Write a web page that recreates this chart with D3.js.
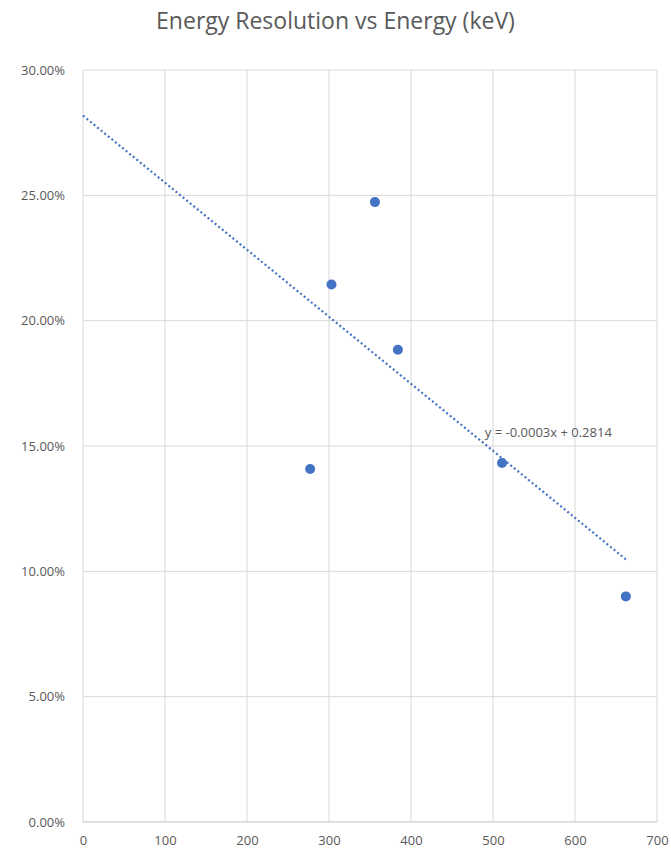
<!DOCTYPE html>
<html>
<head>
<meta charset="utf-8">
<script src="https://cdn.jsdelivr.net/npm/d3@7"></script>
<style>
  body { margin: 0; background: #fff; }
  text { font-family: "Open Sans", "Liberation Sans", sans-serif; fill: #595959; }
</style>
</head>
<body>
<script>
var energy = [277, 303, 356, 384, 511, 662];
var resolution = [0.1408, 0.2144, 0.2473, 0.1884, 0.1432, 0.0900];
var xTicks = [0, 100, 200, 300, 400, 500, 600, 700];
var yTicks = [0, 0.05, 0.10, 0.15, 0.20, 0.25, 0.30];
var titleText = "Energy Resolution vs Energy (keV)";
var eqText = "y = -0.0003x + 0.2814";

var totalWidth = 671, totalHeight = 857;
var margin = {top: 70, right: 14, bottom: 35, left: 83},
    width = totalWidth - margin.left - margin.right,
    height = totalHeight - margin.top - margin.bottom;

var svg = d3.select("body").append("svg")
    .attr("width", totalWidth)
    .attr("height", totalHeight);

svg.append("text")
    .attr("x", totalWidth / 2)
    .attr("y", 29)
    .style("text-anchor", "middle")
    .style("font-size", "23px")
    .text(titleText);

var g = svg.append("g")
    .attr("transform", "translate(" + margin.left + "," + margin.top + ")");

var x = d3.scaleLinear().domain([0, 700]).range([0, width]);
var y = d3.scaleLinear().domain([0, 0.30]).range([height, 0]);

// gridlines
g.selectAll(".vgrid")
    .data(xTicks)
  .enter().append("line")
    .attr("class", "vgrid")
    .attr("x1", function(d) { return x(d); })
    .attr("x2", function(d) { return x(d); })
    .attr("y1", 0)
    .attr("y2", height)
    .style("stroke", "#d9d9d9")
    .style("stroke-width", 1);

g.selectAll(".hgrid")
    .data(yTicks)
  .enter().append("line")
    .attr("class", "hgrid")
    .attr("x1", 0)
    .attr("x2", width)
    .attr("y1", function(d) { return y(d); })
    .attr("y2", function(d) { return y(d); })
    .style("stroke", function(d) { return d === 0 ? "#bfbfbf" : "#d9d9d9"; })
    .style("stroke-width", 1);

var xAxis = d3.axisBottom(x).tickValues(xTicks).tickSize(0).tickPadding(14);
var yAxis = d3.axisLeft(y).tickValues(yTicks).tickSize(0).tickPadding(18)
    .tickFormat(d3.format(".2%"));

g.append("g")
    .attr("transform", "translate(0," + height + ")")
    .call(xAxis)
    .call(function(s) { s.select(".domain").remove(); })
    .selectAll("text")
    .style("font-size", "13px")
    .style("fill", "#595959");

g.append("g")
    .call(yAxis)
    .call(function(s) { s.select(".domain").remove(); })
    .selectAll("text")
    .style("font-size", "13px")
    .style("fill", "#595959");

// least squares trendline
var mx = d3.mean(energy), my = d3.mean(resolution);
var sxy = d3.sum(energy, function(e, i) { return (e - mx) * (resolution[i] - my); });
var sxx = d3.sum(energy, function(e) { return (e - mx) * (e - mx); });
var slope = sxy / sxx, intercept = my - slope * mx;
var xMax = d3.max(energy);

g.append("line")
    .attr("x1", x(0))
    .attr("y1", y(intercept))
    .attr("x2", x(xMax))
    .attr("y2", y(intercept + slope * xMax))
    .style("stroke", "#4472C4")
    .style("stroke-width", 2.2)
    .style("stroke-dasharray", "2,2.6");

g.append("text")
    .attr("x", x(490))
    .attr("y", y(0.1536))
    .style("font-size", "13px")
    .text(eqText);

g.selectAll(".dot")
    .data(energy)
  .enter().append("circle")
    .attr("class", "dot")
    .attr("r", 5)
    .attr("cx", function(d) { return x(d); })
    .attr("cy", function(d, i) { return y(resolution[i]); })
    .style("fill", "#4472C4");
</script>
</body>
</html>
